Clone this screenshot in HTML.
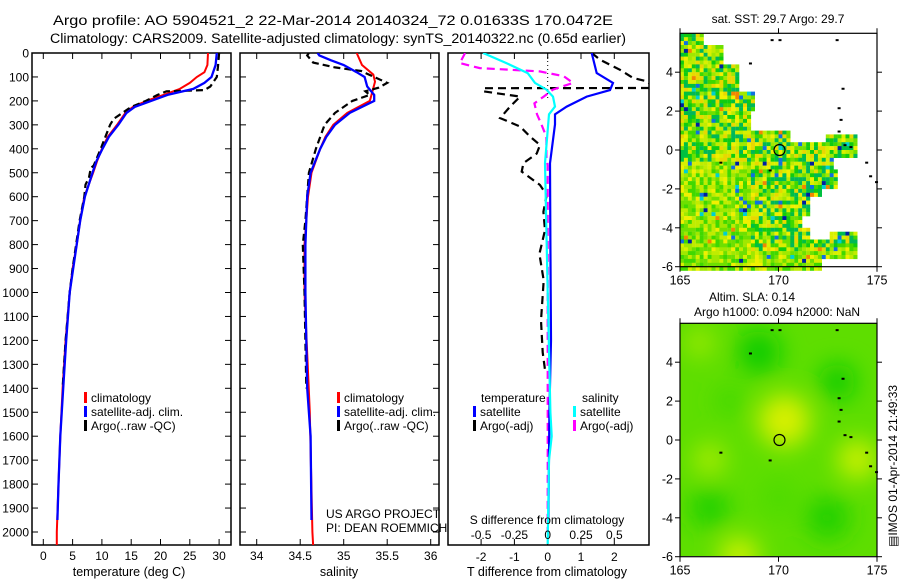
<!DOCTYPE html>
<html><head><meta charset="utf-8">
<style>
html,body{margin:0;padding:0;background:#fff;}
svg{display:block;font-family:"Liberation Sans",sans-serif;}
text{fill:#000;}
</style></head>
<body>
<svg id="fig" width="900" height="580" viewBox="0 0 900 580" xmlns="http://www.w3.org/2000/svg">
<defs>
<clipPath id="c1"><rect x="32" y="53" width="199" height="492"/></clipPath>
<clipPath id="c2"><rect x="240" y="53" width="199" height="492"/></clipPath>
<clipPath id="c3"><rect x="448" y="53" width="201" height="492"/></clipPath>
<clipPath id="cm2"><rect x="680" y="323" width="197" height="233"/></clipPath>
<filter id="blur" x="-50%" y="-50%" width="200%" height="200%"><feGaussianBlur stdDeviation="12"/></filter>
</defs>
<text x="53" y="25" font-size="14" textLength="560" lengthAdjust="spacingAndGlyphs">Argo profile: AO 5904521_2 22-Mar-2014 20140324_72 0.01633S 170.0472E</text>
<text x="50" y="43" font-size="13.5" textLength="576" lengthAdjust="spacingAndGlyphs">Climatology: CARS2009. Satellite-adjusted climatology: synTS_20140322.nc (0.65d earlier)</text>
<g id="g1"></g>
<g id="g2"></g>
<g id="g3"></g>
<g id="m1"></g>
<g id="m2"></g>
</svg>
<script>
// ---- data ----
const depthTicks=[0,100,200,300,400,500,600,700,800,900,1000,1100,1200,1300,1400,1500,1600,1700,1800,1900,2000];
const tTicks=[0,5,10,15,20,25,30];
const sTicks=[34,34.5,35,35.5,36];
const dTTicks=[-2,-1,0,1,2];
const dSTicks=[-0.5,-0.25,0,0.25,0.5];
const tClim=[[0,28.1],[50,28.0],[80,27.5],[100,26.2],[125,25],[150,23.3],[175,20.5],[200,17.6],[225,15.3],[250,14],[300,12.6],[350,11],[400,10],[450,9.2],[500,8.5],[600,7],[700,6.3],[800,5.7],[900,5],[1000,4.5],[1200,3.8],[1400,3.3],[1600,2.9],[1800,2.6],[2000,2.3],[2060,2.3]];
const tSat=[[0,29.6],[50,29.4],[100,28.7],[125,27.5],[150,25.6],[175,21.2],[200,18.4],[225,15.6],[250,14.2],[300,12.8],[350,11.2],[400,10.1],[450,9.1],[500,8.4],[600,7.1],[700,6.3],[800,5.7],[900,5.1],[1000,4.5],[1200,3.9],[1400,3.4],[1600,2.9],[1800,2.6],[1950,2.4]];
const tArgo=[[0,30],[60,29.8],[100,29.6],[140,28.5],[155,27.5],[160,21],[175,19.5],[200,17.5],[225,15],[250,13.5],[275,12],[300,11.4],[350,10.6],[400,9.8],[470,8.6],[480,8.1],[520,7.8],[550,7.2],[600,7],[700,6.2],[800,5.6],[900,5],[1000,4.5],[1200,3.8],[1400,3.3]];
const sClim=[[0,35.15],[50,35.21],[90,35.34],[120,35.36],[175,35.32],[200,35.3],[250,35.04],[300,34.88],[350,34.79],[400,34.73],[500,34.63],[600,34.59],[700,34.57],[800,34.55],[1000,34.55],[1500,34.61],[2000,34.64],[2060,34.65]];
const sSat=[[0,34.7],[10,34.72],[30,34.85],[50,35.0],[80,35.15],[100,35.24],[140,35.27],[175,35.35],[200,35.35],[250,35.07],[300,34.9],[350,34.8],[400,34.73],[500,34.62],[600,34.58],[700,34.57],[800,34.56],[1000,34.56],[1400,34.58],[1600,34.62],[1950,34.63]];
const sArgo=[[0,34.6],[10,34.58],[40,34.65],[60,34.9],[75,35.2],[100,35.35],[125,35.5],[145,35.4],[160,35.25],[175,35.3],[200,35.1],[250,34.9],[300,34.78],[400,34.68],[500,34.6],[700,34.56],[800,34.53],[1000,34.55],[1400,34.57]];
const dTSat=[[0,1.32],[84,1.47],[125,1.96],[155,1.87],[182,1.17],[224,0.57],[256,0.22],[298,0.22],[460,0.07],[800,0.08],[1200,0.1],[1500,0.05],[1950,0.02]];
const dSSat=[[0,-0.485],[42,-0.31],[84,-0.15],[125,-0.095],[153,-0.01],[182,0.04],[224,0.055],[256,0.01],[460,-0.02],[1000,0],[1500,0.02],[1600,0.03],[1700,0.01],[2050,0]];
const dTArgo=[[0,1.32],[28,1.57],[70,2.17],[104,2.56],[118,2.98],[146,3.2],[147,-1.9],[160,-1.94],[182,-0.83],[224,-1.13],[272,-1.43],[307,-0.83],[349,-0.53],[384,-0.23],[420,-0.33],[460,-0.73],[495,-0.78],[551,-0.23],[593,-0.03],[663,-0.13],[740,-0.08],[839,-0.25],[950,-0.12],[1117,-0.2],[1250,-0.15],[1323,-0.08]];
const dSArgo=[[0,-0.62],[42,-0.66],[63,-0.51],[77,-0.06],[97,0.12],[125,0.19],[153,0.04],[182,-0.03],[210,-0.1],[256,-0.08],[294,-0.05],[350,-0.01],[432,-0.01],[470,0],[1000,0],[2000,0]];

const NS='http://www.w3.org/2000/svg';
function el(tag,attrs,parent,txt){const e=document.createElementNS(NS,tag);for(const k in attrs)e.setAttribute(k,attrs[k]);if(txt!==undefined)e.textContent=txt;parent.appendChild(e);return e;}
const Y=d=>53+d*0.2395;
const xT=t=>43.3+t*5.86;
const xS=s=>256.7+(s-34)*87;
const xdT=v=>547.7+v*33.3;
const xdS=v=>547.7+v*133.2;
function line(g,data,fx,color,w,dash,clip,name){
  const pts=data.map(p=>fx(p[1]).toFixed(1)+','+Y(p[0]).toFixed(1)).join(' ');
  const a={points:pts,fill:'none',stroke:color,'stroke-width':w,'clip-path':'url(#'+clip+')'};
  if(dash)a['stroke-dasharray']=dash;
  const e=el('polyline',a,g);
  
  
}
function box(g,x0,x1,name){
  const r=el('rect',{x:x0,y:53,width:x1-x0,height:492,fill:'none',stroke:'#000','stroke-width':1.5},g);
  
  
}
function xticks(g,ticks,fx,labels,ly){
  ticks.forEach((t,i)=>{const x=fx(t);
    el('line',{x1:x,x2:x,y1:545,y2:539,stroke:'#000'},g);
    el('line',{x1:x,x2:x,y1:53,y2:59,stroke:'#000'},g);
    if(labels){const tx=el('text',{x:x,y:ly,'font-size':12,'text-anchor':'middle'},g,labels[i]);
      
      }
  });
}
function yticks(g,x0,x1){
  depthTicks.forEach(d=>{const y=Y(d);
    el('line',{x1:x0,x2:x0+6,y1:y,y2:y,stroke:'#000'},g);
    el('line',{x1:x1,x2:x1-6,y1:y,y2:y,stroke:'#000'},g);});
}
function legend(g,x,y,color,label,name){
  el('rect',{x:x,y:y-10,width:3,height:11,fill:color},g);
  const t=el('text',{x:x+7,y:y,'font-size':12},g,label);
  
  
}
const g1=document.getElementById('g1');
box(g1,32,231,'temperature-plot-area');
yticks(g1,32,231);
depthTicks.forEach(d=>{const t=el('text',{x:29,y:Y(d)+4.5,'font-size':12,'text-anchor':'end'},g1,String(d));
  
  });
xticks(g1,tTicks,xT,tTicks.map(String),560);
line(g1,tClim,xT,'#ff0000',2,null,'c1','temperature-climatology-line');
line(g1,tArgo,xT,'#000',2.2,'7,4','c1','temperature-argo-line');
line(g1,tSat,xT,'#0000ff',2.3,null,'c1','temperature-satellite-line');
legend(g1,84,402,'#ff0000','climatology','legend-climatology');
legend(g1,84,416,'#0000ff','satellite-adj. clim.','legend-satellite-adj');
legend(g1,84,430,'#000','Argo(..raw -QC)','legend-argo');
let t=el('text',{x:129,y:576,'font-size':12.5,'text-anchor':'middle'},g1,'temperature (deg C)');

const g2=document.getElementById('g2');
box(g2,240,439,'salinity-plot-area');
yticks(g2,240,439);
xticks(g2,sTicks,xS,['34','34.5','35','35.5','36'],560);
line(g2,sClim,xS,'#ff0000',2,null,'c2','salinity-climatology-line');
line(g2,sArgo,xS,'#000',2.2,'7,4','c2','salinity-argo-line');
line(g2,sSat,xS,'#0000ff',2.3,null,'c2','salinity-satellite-line');
legend(g2,337,402,'#ff0000','climatology','legend-climatology-s');
legend(g2,337,416,'#0000ff','satellite-adj. clim.','legend-satellite-adj-s');
legend(g2,337,430,'#000','Argo(..raw -QC)','legend-argo-s');
t=el('text',{x:326,y:518,'font-size':12},g2,'US ARGO PROJECT');
t=el('text',{x:326,y:532,'font-size':12},g2,'PI: DEAN ROEMMICH');
t=el('text',{x:339,y:576,'font-size':12.5,'text-anchor':'middle'},g2,'salinity');
const g3=document.getElementById('g3');
box(g3,448,649,'difference-plot-area');
xticks(g3,dTTicks,xdT,dTTicks.map(String),561);
el('line',{x1:547.7,x2:547.7,y1:53,y2:Y(200),stroke:'#000','stroke-dasharray':'1,3'},g3);
line(g3,dTArgo,xdT,'#000',2.2,'8,5','c3','t-diff-argo-line');
line(g3,dSArgo,xdS,'#ff00ff',2.2,'8,5','c3','s-diff-argo-line');
line(g3,dTSat,xdT,'#0000ff',2.2,null,'c3','t-diff-satellite-line');
line(g3,dSSat,xdS,'#00ffff',2.2,null,'c3','s-diff-satellite-line');
t=el('text',{x:481,y:402,'font-size':12},g3,'temperature');
t=el('text',{x:582,y:402,'font-size':12},g3,'salinity');
legend(g3,473,416,'#0000ff','satellite','legend-t-satellite');
legend(g3,473,430,'#000','Argo(-adj)','legend-t-argo');
legend(g3,573,416,'#00ffff','satellite','legend-s-satellite');
legend(g3,573,430,'#ff00ff','Argo(-adj)','legend-s-argo');
t=el('text',{x:547,y:524,'font-size':12,'text-anchor':'middle'},g3,'S difference from climatology');
dSTicks.forEach(v=>{const tx=el('text',{x:xdS(v),y:539,'font-size':12,'text-anchor':'middle'},g3,String(v));
  });
t=el('text',{x:547,y:576,'font-size':12.5,'text-anchor':'middle'},g3,'T difference from climatology');

const lonTicks=[165,170,175];
const latTicks=[4,2,0,-2,-4,-6];
const LX=lon=>680+(lon-165)*19.7;
function mapAxes(g,top,name){
  const LY=lat=>top+ (6-lat)*19.45;
  const r=el('rect',{x:680,y:top,width:197,height:LY(-6)-top,fill:'none',stroke:'#000','stroke-width':1.2},g);
  
  lonTicks.forEach(l=>{const x=LX(l);
    el('line',{x1:x,x2:x,y1:top,y2:top-5,stroke:'#000'},g);
    el('line',{x1:x,x2:x,y1:LY(-6),y2:LY(-6)+5,stroke:'#000'},g);
    const tx=el('text',{x:x,y:LY(-6)+18,'font-size':12.5,'text-anchor':'middle'},g,String(l));
    });
  latTicks.forEach(l=>{const y=LY(l);
    el('line',{x1:680,x2:675,y1:y,y2:y,stroke:'#000'},g);
    el('line',{x1:877,x2:882,y1:y,y2:y,stroke:'#000'},g);
    const tx=el('text',{x:673,y:y+4.5,'font-size':12.5,'text-anchor':'end'},g,String(l));
    });
  const coast=[[173.2,3.2],[173.0,2.2],[173.1,1.6],[173.0,1.0],[173.3,0.3],[173.6,0.2],[174.4,-0.6],[174.6,-1.3],[174.9,-1.6],[168.5,4.5],[169.6,5.7],[170.0,5.7],[172.9,5.7],[167,-0.6],[169.5,-1]];
  coast.forEach(c=>el('rect',{x:LX(c[0]),y:LY(c[1]),width:3,height:2,fill:'#000'},g));
  const ci=el('circle',{cx:LX(170.05),cy:LY(0),r:5.5,fill:'none',stroke:'#000','stroke-width':1.2},g);
  
  return LY;
}
const m1=document.getElementById('m1');
const sstEdges=[[5.5,166.1],[4.5,167.2],[3,168.0],[2,168.8],[1,168.6],[0.3,170.5],[-0.5,174],[-1,172.8],[-2,173],[-2.5,172.2],[-3.5,171.5],[-4,171.2],[-4.5,171.5],[-5.5,174],[-6.1,172.2]];
const pal=['#f0f000','#d8f000','#c0ec00','#a0e800','#6ee000','#40d800','#10cc10','#00c040','#00b858','#e8d800'];
function h(i,j){let n=i*374761393+j*668265263;n=(n^(n>>13))*1274126177;n=n^(n>>16);return Math.abs(n)%1000/1000;}
(function(){
  const LY=lat=>33.3+(6-lat)*19.45;
  for(let i=0;i<50;i++)for(let j=0;j<61;j++){
    const lon=165+i*0.2, lat=6-j*0.2;
    let lim=165; for(const e of sstEdges){if(lat-0.1>=e[0]){lim=e[1];break;}}
    let inside=lon<lim;
    if(lat<0.9&&lat>0.3&&lon>172.2&&lon<174)inside=true;
    if(lat<-4&&lat>-4.5&&lon>172.4&&lon<174)inside=true;
    if(!inside)continue;
    const r=h(i,j);
    let c;
    const south=(lat<-0.5&&lon<168.5)||lat<-5;
    if(r>0.985)c='#0020a0';else if(r>0.97)c='#1070e0';else if(r>0.955)c='#00d0d0';else if(r>0.94)c='#f08800';
    else {let k=Math.floor(h(j+7,i+3)*pal.length);if(south&&k>5)k-=4;c=pal[k];}
    el('rect',{x:LX(lon).toFixed(1),y:LY(lat).toFixed(1),width:4.1,height:4.1,fill:c},m1);
  }
  mapAxes(m1,33.3,'sst-map');
})();
t=el('text',{x:778,y:23,'font-size':12,'text-anchor':'middle'},m1,'sat. SST: 29.7 Argo: 29.7');
const m2=document.getElementById('m2');
const slaBlobs=[[170.3,1,'#d8f000',26],[174,-1,'#c8f000',20],[168,-6,'#c8f000',20],[166.5,-1,'#a8ec00',16],[166,5,'#a0ea00',14],[169,4.5,'#10cc00',22],[173,3,'#10cc00',18],[166.5,-3.5,'#20d000',20],[172.5,-4,'#20d000',22],[170,-3,'#50dc00',20],[167.5,2,'#40d800',14]];
(function(){
  const LY=lat=>323.3+(6-lat)*19.45;
  const gg=el('g',{'clip-path':'url(#cm2)'},m2);
  el('rect',{x:680,y:323,width:197,height:233,fill:'#5ede00'},gg);
  const bl=el('g',{filter:'url(#blur)'},gg);
  slaBlobs.forEach(b=>el('circle',{cx:LX(b[0]),cy:LY(b[1]),r:b[3],fill:b[2]},bl));
  mapAxes(m2,323.3,'sla-map');
})();
t=el('text',{x:752,y:301,'font-size':12,'text-anchor':'middle'},m2,'Altim. SLA: 0.14');
t=el('text',{x:777,y:316,'font-size':12,'text-anchor':'middle'},m2,'Argo h1000: 0.094 h2000: NaN');
t=el('text',{x:0,y:0,'font-size':12,transform:'translate(897,547) rotate(-90)'},m2,'\u25A4IMOS 01-Apr-2014 21:49:33');
</script>
</body></html>
